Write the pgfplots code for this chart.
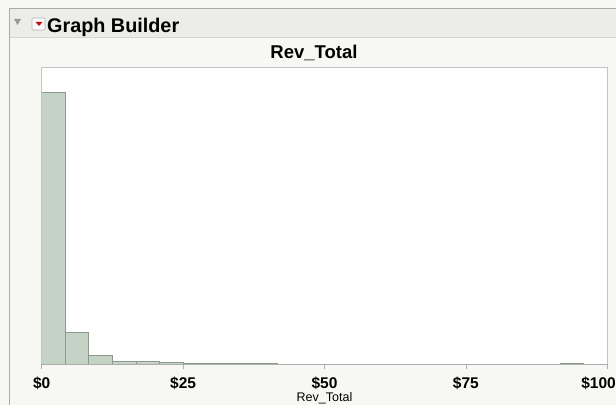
\documentclass[border=0pt]{standalone}
\usepackage{pgfplots}
\pgfplotsset{compat=1.18}
\usepackage{fontspec}
\setmainfont{Liberation Sans}
\definecolor{panelbg}{HTML}{F7F7F3}
\definecolor{bandbg}{HTML}{ECECE8}
\definecolor{bordergray}{HTML}{ABABAB}
\definecolor{bandline}{HTML}{D6D6D2}
\definecolor{framegray}{HTML}{C4C4C4}
\definecolor{axisgray}{HTML}{AEAEAE}
\definecolor{barfill}{HTML}{C5D3C6}
\definecolor{baredge}{HTML}{8A9A8C}
\definecolor{jmpred}{HTML}{CC1010}
\begin{document}
\begin{tikzpicture}[x=1bp,y=1bp]
\useasboundingbox (0,0) rectangle (616,405);
% panel background
\fill[panelbg] (0,0) rectangle (616,405);
% header band
\fill[bandbg] (9.5,368) rectangle (616,396);
\draw[bandline, line width=1bp] (9.5,368) -- (616,368);
\draw[bordergray, line width=1.5bp] (9.5,396.5) -- (616,396.5);
\draw[bordergray, line width=1.2bp] (9.5,0) -- (9.5,397);
% disclosure triangle
\fill[gray!80] (14,386) -- (21,386) -- (17.5,380) -- cycle;
% red menu box
\filldraw[fill=white!96!gray, draw=gray!60, line width=0.6bp, rounded corners=1bp] (32,375) rectangle (45,387);
\fill[jmpred] (35.5,383) -- (42.5,383) -- (39,379) -- cycle;
\node[anchor=base west, inner sep=0pt, font=\fontsize{19.8bp}{22bp}\selectfont\bfseries] at (47,373) {Graph Builder};
% title
\node[anchor=base, inner sep=0pt, font=\fontsize{18.5bp}{21bp}\selectfont\bfseries] at (314,347) {Rev\_Total};
% plot area
\fill[white] (41.7,41) rectangle (607.3,338);
\begin{axis}[
  at={(41.7bp,41bp)}, anchor=south west,
  width=565.6bp, height=297bp, scale only axis,
  xmin=0, xmax=100, ymin=0, ymax=297,
  axis line style={draw=none},
  ytick=\empty,
  xtick={0,25,50,75},
  xticklabels={\textbf{\$0},\textbf{\$25},\textbf{\$50},\textbf{\$75}},
  extra x ticks={100},
  extra x tick labels={\textbf{\$100}},
  extra x tick style={xticklabel style={anchor=base east, xshift=8.7bp}},
  tick align=outside,
  major tick length=5bp,
  tick style={axisgray, line width=0.8bp},
  xtick pos=bottom,
  xticklabel style={font=\fontsize{15.5bp}{17bp}\selectfont, anchor=base, inner sep=0pt, yshift=-19.5bp},
  xlabel={Rev\_Total},
  xlabel style={font=\fontsize{12.5bp}{14bp}\selectfont, at={(axis description cs:0.5,0)}, anchor=base, inner sep=0pt, yshift=-37bp},
  clip=false,
]
\addplot[ybar interval, fill=barfill, draw=baredge, line width=0.9bp] coordinates {
  (0,271.7) (4.1667,31.7) (8.3333,8.3) (12.5,3.0) (16.6667,2.3) (20.8333,2.0)
  (25,1.0) (29.1667,1.0) (33.3333,1.0) (37.5,1.0) (41.6667,0)
};
\addplot[ybar interval, fill=barfill, draw=baredge, line width=0.9bp] coordinates {
  (91.6667,1.0) (95.8333,0)
};
\end{axis}
% frame
\draw[framegray, line width=0.9bp] (41.7,41) -- (41.7,338) -- (607.3,338) -- (607.3,41);
\draw[axisgray, line width=0.9bp] (41.7,41) -- (607.3,41);
\end{tikzpicture}
\end{document}
